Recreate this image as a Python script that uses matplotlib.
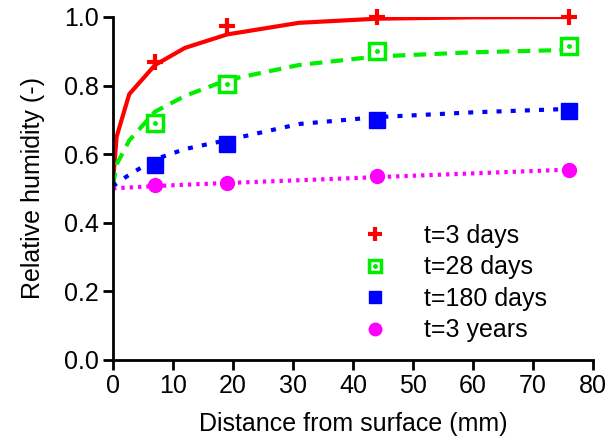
import numpy as np
import matplotlib.pyplot as plt
from matplotlib.lines import Line2D

plt.rcParams['font.family'] = ['Liberation Sans', 'DejaVu Sans']

# measured points
x_pts = [7, 19, 44, 76]
rh_3d = [0.869, 0.975, 1.0, 1.0]
rh_28d = [0.692, 0.804, 0.900, 0.915]
rh_180d = [0.569, 0.630, 0.700, 0.726]
rh_3y = [0.509, 0.516, 0.535, 0.555]

# model curves
x_fit = [0, 0.6, 2.7, 7, 12, 19, 31, 44, 60, 76]
fit_3d = [0.52, 0.651, 0.775, 0.86, 0.91, 0.949, 0.983, 0.995, 0.999, 1.0]
fit_28d = [0.51, 0.57, 0.64, 0.724, 0.77, 0.816, 0.860, 0.885, 0.897, 0.904]
fit_180d = [0.505, 0.515, 0.54, 0.585, 0.615, 0.641, 0.688, 0.708, 0.722, 0.732]
fit_3y = [0.50, 0.501, 0.503, 0.507, 0.511, 0.516, 0.524, 0.533, 0.544, 0.555]

fig = plt.figure(figsize=(6.09, 4.41), dpi=100)
ax = fig.add_axes([0.1856, 0.1837, 0.7881, 0.7778])

ax.plot(x_fit, fit_3d, color="#ff0000", lw=3, linestyle="-")
ax.plot(x_fit, fit_28d, color="#00ee00", lw=3, linestyle=(0, (3, 2)))
ax.plot(x_fit, fit_180d, color="#0000ff", lw=3, linestyle=(0, (1.2, 2.2)))
ax.plot(x_fit, fit_3y, color="#ff00ff", lw=3, linestyle=(0, (0.8, 1.2)))

ax.plot(x_pts, rh_3d, linestyle="none", marker="+", ms=12, mew=3, color="#ff0000", clip_on=False)
ax.plot(x_pts, rh_28d, linestyle="none", marker="s", ms=11, mew=2.5, mfc="white", mec="#00ee00")
ax.plot(x_pts, rh_28d, linestyle="none", marker="o", ms=2.5, color="#00ee00")
ax.plot(x_pts, rh_180d, linestyle="none", marker="s", ms=11, color="#0000ff")
ax.plot(x_pts, rh_3y, linestyle="none", marker="o", ms=10, color="#ff00ff")

# legend (markers only)
h1 = Line2D([], [], linestyle="none", marker="+", ms=10, mew=3, color="#ff0000")
h2a = Line2D([], [], linestyle="none", marker="s", ms=9, mew=2.5, mfc="white", mec="#00ee00")
h2b = Line2D([], [], linestyle="none", marker="o", ms=2.5, color="#00ee00")
h3 = Line2D([], [], linestyle="none", marker="s", ms=9, color="#0000ff")
h4 = Line2D([], [], linestyle="none", marker="o", ms=9, color="#ff00ff")
ax.legend([h1, (h2a, h2b), h3, h4], ["t=3 days", "t=28 days", "t=180 days", "t=3 years"],
          loc="lower left", bbox_to_anchor=(0.47, 0.0), frameon=False, fontsize=18,
          handletextpad=1.2, labelspacing=0.3, handlelength=1.5, borderaxespad=0.3)

ax.set_xlim(0, 80)
ax.set_ylim(0, 1.0)
ax.set_xticks(np.arange(0, 81, 10))
ax.set_yticks(np.arange(0, 1.01, 0.2))
ax.set_yticklabels(["0.0", "0.2", "0.4", "0.6", "0.8", "1.0"])
ax.spines["top"].set_visible(False)
ax.spines["right"].set_visible(False)
ax.spines["left"].set_linewidth(2)
ax.spines["bottom"].set_linewidth(2)
ax.tick_params(direction="out", length=7, width=2, labelsize=18, pad=3)
ax.set_xlabel("Distance from surface (mm)", fontsize=18, labelpad=10)
ax.set_ylabel("Relative humidity (-)", fontsize=18, labelpad=14)

fig.savefig("out.png", dpi=100)
